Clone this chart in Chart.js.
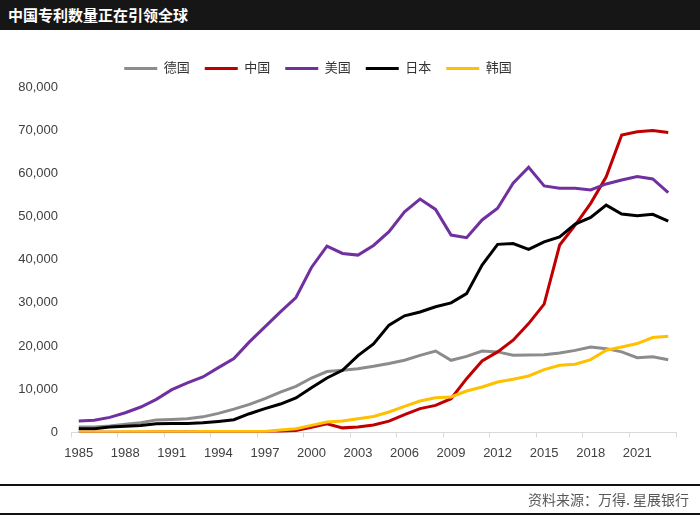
<!DOCTYPE html>
<html>
<head>
<meta charset="utf-8">
<script src="https://cdn.jsdelivr.net/npm/chart.js@4"></script>
<style>
  body { margin: 0; width: 700px; height: 520px; position: relative; background: #fff; overflow: hidden; }
  #chartBox { position: absolute; left: 0; top: 0; width: 700px; height: 520px; }
  #header { position: absolute; left: 0; top: 0; width: 700px; height: 30px; background: #161616; color: #fff;
            font: bold 15px "Noto Sans CJK SC", sans-serif; line-height: 30px; padding-left: 8px; box-sizing: border-box; }
  #footer { position: absolute; left: 0; top: 484px; width: 700px; height: 31px; border-top: 2px solid #111; border-bottom: 2px solid #111;
            box-sizing: border-box; text-align: right; font: 14px "Noto Sans CJK SC", sans-serif; line-height: 27px; color: #595959; padding-right: 11px; }
</style>
</head>
<body>
<div id="chartBox"><canvas id="lineChart"></canvas></div>
<div id="header">中国专利数量正在引领全球</div>
<div id="footer">资料来源：万得. 星展银行</div>
<script>
const lineChart = document.getElementById("lineChart");

// Data

const years = ["1985", "1986", "1987", "1988", "1989", "1990", "1991", "1992", "1993", "1994",
  "1995", "1996", "1997", "1998", "1999", "2000", "2001", "2002", "2003", "2004",
  "2005", "2006", "2007", "2008", "2009", "2010", "2011", "2012", "2013", "2014",
  "2015", "2016", "2017", "2018", "2019", "2020", "2021", "2022", "2023"];

const germany = [1240, 1250, 1500, 1900, 2250, 2900, 3000, 3150, 3600, 4400,
  5400, 6500, 7800, 9350, 10650, 12600, 14100, 14400, 14750, 15300,
  15950, 16700, 17850, 18850, 16700, 17600, 18850, 18650, 17850, 17900,
  18000, 18400, 19000, 19800, 19400, 18650, 17300, 17500, 16850];

const china = [20, 30, 40, 50, 60, 70, 80, 90, 100, 110,
  120, 130, 150, 200, 450, 1200, 2000, 1050, 1250, 1700,
  2600, 4100, 5500, 6250, 7800, 12450, 16550, 18650, 21350, 25200,
  29700, 43400, 48000, 53050, 59200, 68900, 69650, 69900, 69450];

const usa = [2630, 2800, 3480, 4560, 5880, 7660, 9900, 11450, 12840, 15000,
  17090, 20960, 24440, 27920, 31240, 38200, 43160, 41450, 41070, 43300,
  46500, 51100, 54050, 51650, 45700, 45100, 49200, 51900, 57700, 61400,
  57100, 56550, 56550, 56150, 57550, 58450, 59250, 58700, 55550];

const japan = [850, 850, 1240, 1400, 1620, 2000, 2090, 2090, 2240, 2550,
  2940, 4330, 5490, 6570, 7970, 10360, 12600, 14400, 17800, 20500,
  24850, 27000, 27900, 29100, 30000, 32150, 38750, 43550, 43750, 42400,
  44150, 45300, 48250, 49800, 52650, 50600, 50200, 50500, 48950];

const korea = [100, 110, 120, 130, 140, 150, 160, 170, 180, 190,
  200, 210, 230, 540, 850, 1620, 2400, 2630, 3170, 3700,
  4720, 6030, 7270, 8040, 8200, 9590, 10520, 11680, 12300, 13070,
  14540, 15550, 15780, 16860, 19030, 19800, 20570, 21960, 22270];

const fontFamily = '"Liberation Sans", "Noto Sans CJK SC", sans-serif';

function series(label, data, color, order) {
  return {
    label: label,
    data: data,
    borderColor: color,
    backgroundColor: color,
    borderWidth: 3,
    pointRadius: 0,
    tension: 0,
    order: order,
  };
}

// move the legend to where the original has it
const legendShift = {
  id: "legendShift",
  afterLayout(chart) {
    const lg = chart.legend;
    lg.left -= 20; lg.right -= 20;
    lg.top -= 2; lg.bottom -= 2;
  },
};

let config = {
  type: "line",
  data: {
    labels: years,
    datasets: [
      series("德国", germany, "#8c8c8c", 5),
      series("中国", china, "#c00000", 4),
      series("美国", usa, "#7030a0", 3),
      series("日本", japan, "#000000", 2),
      series("韩国", korea, "#ffc000", 1),
    ],
  },
  options: {
    responsive: true,
    maintainAspectRatio: false,
    animation: false,
    layout: { padding: { top: 49, right: 24, bottom: 51, left: 0 } },
    plugins: {
      legend: {
        position: "top",
        labels: {
          usePointStyle: true,
          pointStyle: "line",
          pointStyleWidth: 33,
          padding: 15,
          color: "#333333",
          font: { family: fontFamily, size: 13 },
          sort: (a, b) => a.datasetIndex - b.datasetIndex,
        },
      },
      tooltip: { enabled: false },
    },
    scales: {
      x: {
        offset: true,
        grid: {
          offset: true,
          drawOnChartArea: false,
          tickLength: 5,
          color: (ctx) => (ctx.tick === undefined || ctx.index % 3 === 0) ? "#d9d9d9" : "rgba(0,0,0,0)",
        },
        border: { color: "#d9d9d9", width: 1 },
        ticks: {
          autoSkip: false,
          maxRotation: 0,
          padding: 8,
          color: "#404040",
          font: { family: fontFamily, size: 13 },
          callback: function (value, index) {
            return index % 3 === 0 ? this.getLabelForValue(value) : "";
          },
        },
      },
      y: {
        min: 0,
        max: 80000,
        afterFit: (scale) => { scale.width = 71; },
        grid: { display: false, drawTicks: false },
        border: { display: false },
        ticks: {
          stepSize: 10000,
          padding: 13,
          color: "#404040",
          font: { family: fontFamily, size: 13 },
          callback: (v) => v.toLocaleString("en-US"),
        },
      },
    },
  },
  plugins: [legendShift],
};

const chart = new Chart(lineChart, config);
</script>
</body>
</html>
